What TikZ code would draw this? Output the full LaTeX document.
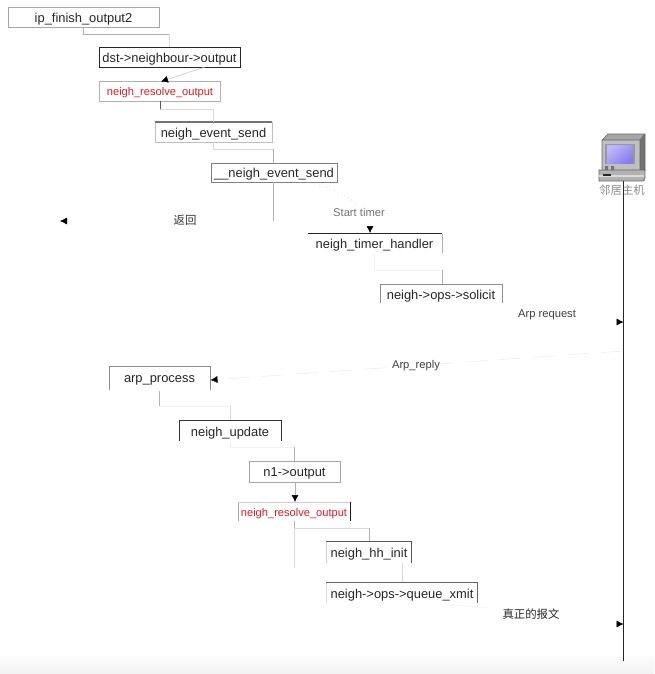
\documentclass[tikz,border=0pt]{standalone}
\usepackage{fontspec}
\setmainfont{Liberation Sans}
\newfontfamily\cjk{Noto Sans CJK SC}
\usetikzlibrary{arrows.meta,calc}
\definecolor{redtext}{RGB}{215,30,40}
\definecolor{screenA}{RGB}{190,185,250}
\definecolor{screenB}{RGB}{135,125,235}
\tikzset{
  x=1pt,y=-1pt,
  fn/.style={font=\fontsize{12.9}{14}\selectfont,text=black!85,inner sep=0pt,anchor=center,yshift=-1.5pt},
  fnred/.style={font=\fontsize{11.1}{13}\selectfont,text=redtext,inner sep=0pt,anchor=center,yshift=-1pt},
  lbl/.style={font=\fontsize{11.2}{12}\selectfont,text=black!75,inner sep=0pt},
  cjklbl/.style={font=\cjk\fontsize{11.4}{12}\selectfont,text=black!80,inner sep=0pt},
  edgeA/.style={draw=black!65,line width=.6pt},
  edgeB/.style={draw=black!30,line width=.6pt},
  edgeC/.style={draw=black!15,line width=.6pt},
  faint/.style={draw=black!5,line width=.6pt},
  tip/.style={-{Latex[length=7pt,width=7pt,black]}},
  outline/.style={draw=black!45,line width=.7pt},
}
\begin{document}
\begin{tikzpicture}
\useasboundingbox (0,0) rectangle (654,674);
\shade[top color=white,bottom color=black!5] (0,652) rectangle (654,674);

% closed boxes
\draw[outline,draw=black!35] (8,7) rectangle (159,27);
\node[fn] (ipf) at (83.5,17.5) {ip\_finish\_output2};
\draw[draw=black!85,line width=.7pt] (99,47) rectangle (240,67);
\node[fn] (dst) at (169.5,57.5) {dst->neighbour->output};
\draw[outline,draw=black!30] (99.5,81) rectangle (220.5,101);
\node[fnred] (res1) at (160,92) {neigh\_resolve\_output};
\draw[outline,draw=black!25] (155,122) rectangle (272,142);
\draw[draw=black!55,line width=1.3pt] (155,122) -- (272,122);
\node[fn] (evt) at (213.5,132.5) {neigh\_event\_send};
\draw[outline,draw=black!50] (211,163) rectangle (337,182);
\node[fn] (nev) at (274,173) {\_\_neigh\_event\_send};
\draw[outline,draw=black!35] (249,461) rectangle (340,482);
\node[fn] (n1) at (294.5,472) {n1->output};

% open boxes
\draw[draw=black!85,line width=.7pt] (308,233.5) -- (442,233.5);
\draw[edgeB] (442,233.5) -- (442,253);
\node[fn] (tmr) at (374.5,244) {neigh\_timer\_handler};
\draw[outline] (380,303) -- (380,284) -- (502,284) -- (502,303);
\node[fn] (sol) at (441,294.5) {neigh->ops->solicit};
\draw[outline] (109,390) -- (109,366) -- (210,366) -- (210,390);
\node[fn] (arp) at (159.5,378.5) {arp\_process};
\draw[draw=black!80,line width=.7pt] (179,441) -- (179,420) -- (281,420) -- (281,441);
\node[fn] (upd) at (230,432) {neigh\_update};
\draw[draw=black!35,line width=.6pt] (238,521) -- (238,502);
\draw[draw=black!20,line width=.6pt] (238,502) -- (350,502);
\draw[draw=black!90,line width=.7pt] (350,502) -- (350,521);
\node[fnred] (res2) at (294,512.5) {neigh\_resolve\_output};
\draw[draw=black!20,line width=.6pt] (326,563) -- (326,541);
\draw[draw=black!65,line width=.7pt] (326,541) -- (411,541) -- (411,563);
\node[fn] (hh) at (369,553) {neigh\_hh\_init};
\draw[draw=black!15,line width=.6pt] (326,603) -- (326,582);
\draw[draw=black!60,line width=.8pt] (326,582) -- (477,582) -- (477,603);
\node[fn] (qx) at (402,593.5) {neigh->ops->queue\_xmit};

% connectors between functions
\draw[edgeB] (83,27) -- (83,34) -- (169,34);
\draw[edgeC] (169,34) -- (169,47);
\draw[draw=black!25,line width=.5pt,tip] (205,67) -- (161,81.5);
\draw[edgeA] (160,101) -- (160,109);
\draw[edgeC] (160,109) -- (213,109) -- (213,122);
\draw[edgeC] (213,142) -- (213,149) -- (273,149);
\draw[edgeB] (273,149) -- (273,163);
\draw[edgeB] (273,182) -- (273,221);
\coordinate (ret) at (60,221);
\draw[draw=white,line width=.5pt,tip] (273,221) -- (ret);
\node[cjklbl] (back) at (185,220) {返回};

\draw[draw=black!20,line width=.5pt,dash pattern=on 1pt off 3pt] (307,182) .. controls (335,188) and (350,198) .. (358,205);
\draw[draw=white,line width=.5pt,tip] (370,222) -- (370,233);
\node[lbl,text=black!55] (st) at (359,212) {Start timer};

\draw[faint] (374,253) -- (374,270) -- (442,270);
\draw[edgeB] (442,270) -- (442,284);

% host
\begin{scope}[shift={(600,133)}]
  \fill[black!35] (2,7) -- (8,1) -- (45,1) -- (40,7) -- cycle;
  \fill[black!55] (40,7) -- (45,1) -- (45,38) -- (40,38) -- cycle;
  \fill[black!25] (2,7) rectangle (40,38);
  \draw[black!60,line width=.6pt] (2,7) -- (8,1) -- (45,1) -- (45,38) (2,7) -- (40,7) -- (45,1) (40,7) -- (40,38) (2,7) -- (2,38);
  \fill[black!40] (5,11) rectangle (35,31);
  \shade[top color=screenA,bottom color=screenB,shading angle=40] (7,12) rectangle (33,30);
  \fill[black!30] (-1,37) rectangle (45,48);
  \draw[black!60,line width=.6pt] (-1,37) -- (45,37) -- (45,45) -- (43,48) -- (-1,48) -- cycle;
  \fill[black!15] (-1,42) rectangle (44,44);
  \fill[black!85] (3,41) rectangle (11,42.5);
  \fill[black!55] (5,33) rectangle (8,37) (11,33) rectangle (14,37);
\end{scope}
\node[inner sep=0pt] (host) at (622,157) {};
\coordinate (lifeS) at (623.5,181);
\coordinate (lifeE) at (623.5,661);
\node[cjklbl,text=black!45] (hostl) at (622,190) {邻居主机};
\draw[draw=black!85,line width=1pt] (lifeS) -- (lifeE);

% messages
\coordinate (a1) at (502,322);
\coordinate (a1e) at (623.5,322);
\draw[draw=white,line width=.5pt,tip] (a1) -- (a1e);
\node[lbl] (req) at (547,314.5) {Arp request};

\coordinate (repS) at (623,351);
\draw[draw=black!9,line width=.5pt,dash pattern=on 22pt off 12pt,tip] (repS) -- (arp.east -| 210.5,378);
\node[lbl,fill=white,inner xsep=2pt] (rep) at (416,365.5) {Arp\_reply};

\draw[edgeB] (159,391) -- (159,406);
\draw[faint] (159,406) -- (230,406);
\draw[edgeC] (230,406) -- (230,420);
\draw[faint] (230,441) -- (230,447) -- (294,447);
\draw[edgeB] (294,447) -- (294,461);
\draw[edgeB,tip] (295,482) -- (295,502);
\draw[edgeB] (294,521) -- (294,528);
\draw[edgeC] (294,528) -- (369,528);
\draw[edgeB] (369,528) -- (369,541);
\draw[edgeC] (294,528) -- (294,568);
\draw[edgeC] (402,563) -- (402,582);

\draw[draw=black!6,line width=.5pt] (442,604) -- (490,608);
\draw[draw=white,line width=.5pt,tip] (490,624) -- (623.5,624);
\node[cjklbl,text=black!85] (real) at (531,614) {真正的报文};
\end{tikzpicture}
\end{document}
